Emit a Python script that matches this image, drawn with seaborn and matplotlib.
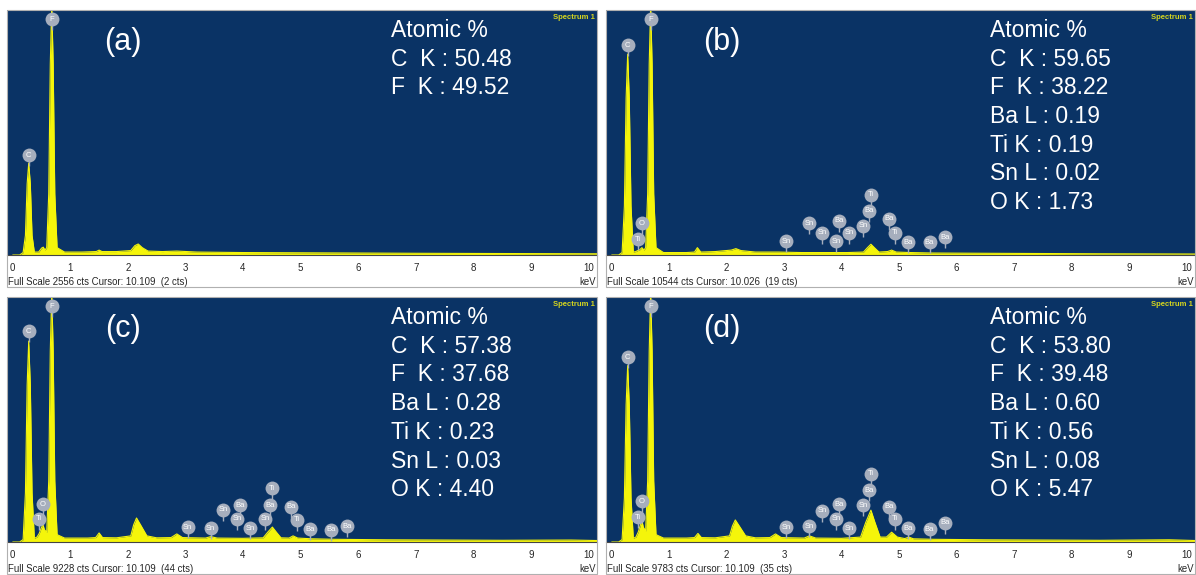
import matplotlib
matplotlib.use("Agg")
import matplotlib.pyplot as plt
from matplotlib.patches import Rectangle
from matplotlib.ticker import MultipleLocator
import seaborn as sns

sns.set_style("white")
plt.rcParams['font.family'] = ['Liberation Sans', 'DejaVu Sans']

# spectra, counts as fraction of full scale
kev_a = [0, 0.12, 0.18, 0.22, 0.25, 0.277, 0.305, 0.335, 0.375, 0.45, 0.50, 0.53, 0.56,
         0.59, 0.625, 0.652, 0.677, 0.702, 0.73, 0.77, 0.9, 1.2, 1.45, 1.5, 1.55, 1.8,
         2.05, 2.12, 2.18, 2.25, 2.35, 2.6, 2.85, 3.2, 4.0, 5.0, 6.0, 7.0, 8.5, 10.16]
cts_a = [0, 0, 0.01, 0.08, 0.29, 0.375, 0.29, 0.08, 0.012, 0.012, 0.028, 0.032, 0.02,
         0.03, 0.25, 0.78, 1.02, 0.78, 0.25, 0.03, 0.012, 0.012, 0.014, 0.02, 0.014, 0.014,
         0.018, 0.038, 0.045, 0.03, 0.016, 0.014, 0.016, 0.012, 0.01, 0.009, 0.008, 0.007, 0.006, 0.005]

kev_b = [0, 0.12, 0.18, 0.22, 0.25, 0.277, 0.305, 0.335, 0.375, 0.42, 0.45, 0.48, 0.525, 0.56,
         0.59, 0.625, 0.652, 0.677, 0.702, 0.73, 0.77, 0.9, 1.3, 1.44, 1.49, 1.55, 1.8,
         2.08, 2.16, 2.25, 2.5, 2.9, 3.3, 3.7, 4.1, 4.38, 4.45, 4.51, 4.57,
         4.65, 4.8, 4.87, 4.95, 5.2, 5.6, 6.5, 7.5, 8.5, 10.16]
cts_b = [0, 0, 0.01, 0.2, 0.64, 0.82, 0.64, 0.2, 0.012, 0.014, 0.018, 0.02, 0.03, 0.02,
         0.03, 0.25, 0.78, 1.02, 0.78, 0.25, 0.03, 0.01, 0.01, 0.012, 0.03, 0.012, 0.014,
         0.02, 0.026, 0.018, 0.012, 0.012, 0.01, 0.01, 0.01, 0.012, 0.03, 0.044, 0.03,
         0.012, 0.014, 0.02, 0.012, 0.01, 0.008, 0.007, 0.006, 0.005, 0.004]

kev_c = [0, 0.12, 0.18, 0.22, 0.25, 0.277, 0.305, 0.335, 0.375, 0.42, 0.46, 0.5, 0.525, 0.55,
         0.59, 0.625, 0.652, 0.677, 0.702, 0.73, 0.77, 0.9, 1.3, 1.44, 1.5, 1.56, 1.8,
         2.05, 2.1, 2.15, 2.22, 2.33, 2.5, 2.75, 2.85, 2.95, 3.35, 3.44, 3.55,
         4.0, 4.35, 4.43, 4.51, 4.58, 4.66, 4.8, 4.87, 4.95, 5.2, 5.6, 6.5, 7.5, 8.5, 9.7, 10.16]
cts_c = [0, 0, 0.01, 0.2, 0.64, 0.82, 0.64, 0.2, 0.015, 0.02, 0.035, 0.06, 0.07, 0.05,
         0.04, 0.25, 0.78, 1.02, 0.78, 0.25, 0.03, 0.016, 0.016, 0.018, 0.037, 0.018, 0.017,
         0.025, 0.07, 0.098, 0.07, 0.025, 0.017, 0.018, 0.033, 0.018, 0.016, 0.022, 0.016,
         0.015, 0.017, 0.04, 0.061, 0.04, 0.017, 0.016, 0.025, 0.016, 0.013, 0.011, 0.009, 0.008, 0.007, 0.008, 0.006]

kev_d = [0, 0.12, 0.18, 0.22, 0.25, 0.277, 0.305, 0.335, 0.375, 0.42, 0.46, 0.5, 0.525, 0.55,
         0.59, 0.625, 0.652, 0.677, 0.702, 0.73, 0.77, 0.9, 1.3, 1.44, 1.5, 1.56, 1.8,
         2.05, 2.1, 2.15, 2.22, 2.33, 2.5, 2.75, 2.85, 2.95, 3.35, 3.44, 3.55,
         4.0, 4.33, 4.42, 4.51, 4.58, 4.67, 4.78, 4.87, 4.97, 5.1, 5.17, 5.25,
         5.6, 6.5, 7.5, 8.5, 9.7, 10.16]
cts_d = [0, 0, 0.01, 0.18, 0.56, 0.72, 0.56, 0.18, 0.015, 0.02, 0.04, 0.07, 0.086, 0.06,
         0.045, 0.25, 0.78, 1.02, 0.78, 0.25, 0.03, 0.016, 0.016, 0.018, 0.035, 0.018, 0.017,
         0.025, 0.065, 0.09, 0.065, 0.025, 0.017, 0.018, 0.033, 0.018, 0.016, 0.025, 0.016,
         0.015, 0.02, 0.08, 0.13, 0.08, 0.02, 0.02, 0.04, 0.02, 0.014, 0.02, 0.013,
         0.011, 0.009, 0.008, 0.007, 0.009, 0.006]

# peak markers
marker_el_a = ['C', 'F']
marker_kev_a = [0.277, 0.677]
marker_h_a = [0.408, 0.963]

marker_el = ['C', 'F', 'Ti', 'O', 'Sn', 'Sn', 'Sn', 'Ba', 'Sn', 'Sn', 'Sn', 'Ba', 'Ti', 'Ba', 'Ti', 'Ba', 'Ba', 'Ba']
marker_kev = [0.277, 0.677, 0.45, 0.525, 3.04, 3.44, 3.66, 3.95, 3.90, 4.13, 4.38, 4.47, 4.51, 4.83, 4.93, 5.16, 5.53, 5.80]
marker_h_b = [0.857, 0.963, 0.065, 0.13, 0.057, 0.13, 0.09, 0.14, 0.057, 0.09, 0.12, 0.18, 0.245, 0.147, 0.09, 0.053, 0.053, 0.073]
marker_h_c = [0.861, 0.963, 0.094, 0.155, 0.061, 0.057, 0.131, 0.151, 0.094, 0.057, 0.094, 0.151, 0.22, 0.143, 0.09, 0.053, 0.049, 0.065]
marker_h_d = [0.755, 0.963, 0.102, 0.167, 0.061, 0.065, 0.127, 0.155, 0.094, 0.057, 0.151, 0.212, 0.278, 0.143, 0.094, 0.057, 0.053, 0.078]

quant_a = ['Atomic %', 'C  K : 50.48', 'F  K : 49.52']
quant_b = ['Atomic %', 'C  K : 59.65', 'F  K : 38.22', 'Ba L : 0.19', 'Ti K : 0.19', 'Sn L : 0.02', 'O K : 1.73']
quant_c = ['Atomic %', 'C  K : 57.38', 'F  K : 37.68', 'Ba L : 0.28', 'Ti K : 0.23', 'Sn L : 0.03', 'O K : 4.40']
quant_d = ['Atomic %', 'C  K : 53.80', 'F  K : 39.48', 'Ba L : 0.60', 'Ti K : 0.56', 'Sn L : 0.08', 'O K : 5.47']

footers = ['Full Scale 2556 cts Cursor: 10.109  (2 cts)',
           'Full Scale 10544 cts Cursor: 10.026  (19 cts)',
           'Full Scale 9228 cts Cursor: 10.109  (44 cts)',
           'Full Scale 9783 cts Cursor: 10.109  (35 cts)']

BLUE = '#0a3365'
YELLOW = '#f5f50a'
GREY = '#a6aebd'

W, H = 1196, 575
PH = 245  # height of the dark plot area in px
fig = plt.figure(figsize=(W / 100, H / 100), dpi=100)

panels = [
    ('(a)', 7, 10, 590, kev_a, cts_a, marker_el_a, marker_kev_a, marker_h_a, quant_a, footers[0]),
    ('(b)', 606, 10, 589, kev_b, cts_b, marker_el, marker_kev, marker_h_b, quant_b, footers[1]),
    ('(c)', 7, 297, 590, kev_c, cts_c, marker_el, marker_kev, marker_h_c, quant_c, footers[2]),
    ('(d)', 606, 297, 589, kev_d, cts_d, marker_el, marker_kev, marker_h_d, quant_d, footers[3]),
]

for tag, left, top, width, kev, cts, els, ekev, eh, quant, footer in panels:
    ax = fig.add_axes([left / W, 1 - (top + PH) / H, width / W, PH / H])
    ax.set_facecolor(BLUE)
    ax.fill_between(kev, cts, color=YELLOW, lw=0)
    sns.lineplot(x=kev, y=cts, ax=ax, color=YELLOW, lw=0.8)
    ax.set_xlim(-0.1, 10.15)
    ax.set_ylim(0, 1)
    ax.set(xlabel='', ylabel='')
    ax.set_yticks([])
    ax.xaxis.set_major_locator(MultipleLocator(1))
    ax.xaxis.set_minor_locator(MultipleLocator(0.1))
    ax.tick_params(axis='x', which='major', length=3, width=0.8, color='#444444',
                   pad=3, labelsize=7, direction='out')
    ax.tick_params(axis='x', which='minor', length=1.8, width=0.7, color='#444444', direction='out')
    for s in ['top', 'left', 'right']:
        ax.spines[s].set_visible(False)
    ax.spines['bottom'].set_color('#444444')
    ax.spines['bottom'].set_linewidth(0.8)

    # element markers
    for el, e, h in zip(els, ekev, eh):
        ax.plot([e, e], [h - 0.045, h], color=GREY, lw=1, solid_capstyle='butt')
        ax.plot(e, h, 'o', ms=10, mfc=GREY, mec='none')
        ax.text(e, h, el, ha='center', va='center', fontsize=5.5, color='white')

    ax.text(116 / width, 1 - 40 / PH, tag, transform=ax.transAxes, ha='center',
            va='baseline', fontsize=22, color='white')
    for i, line in enumerate(quant):
        ax.text(384 / width, 1 - (27 + i * 28.7) / PH, line, transform=ax.transAxes,
                va='baseline', fontsize=16.5, color='white')
    ax.text(1 - 2 / width, 1 - 4 / PH, 'Spectrum 1', transform=ax.transAxes, ha='right',
            va='top', fontsize=5.5, color='#d6d61e', weight='bold')

    fig.text((left + 1) / W, 1 - (top + PH + 30) / H, footer, fontsize=6.9, va='baseline')
    fig.text((left + width - 1) / W, 1 - (top + PH + 30) / H, 'keV', fontsize=6.9,
             va='baseline', ha='right')
    fig.patches.append(Rectangle((left / W, 1 - (top + PH + 32) / H), width / W, (PH + 32) / H,
                                 transform=fig.transFigure, fill=False, ec='#b0b0b0', lw=0.8))

fig.savefig('out.png', dpi=100)
